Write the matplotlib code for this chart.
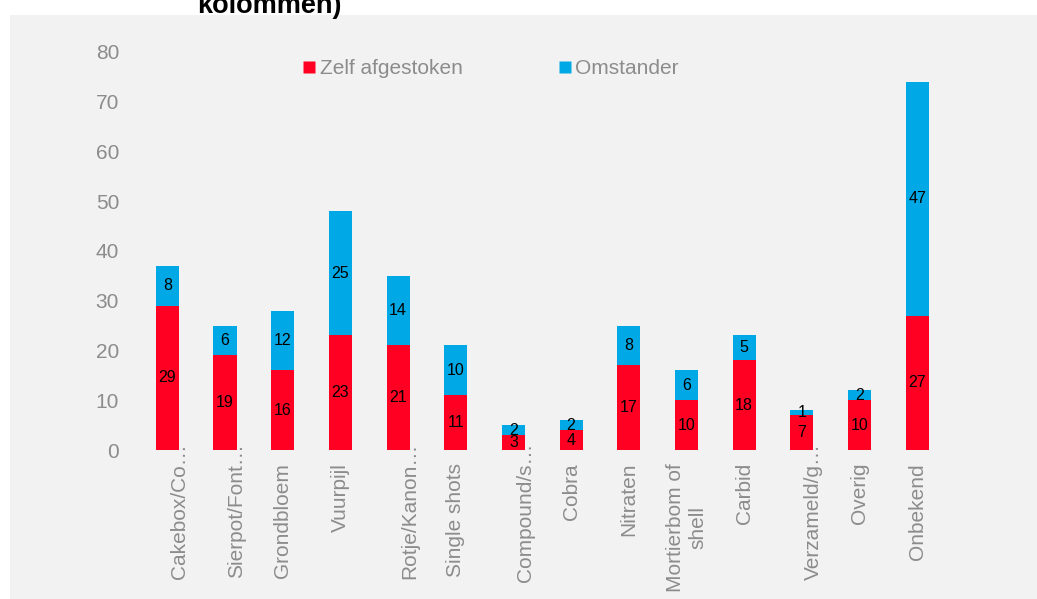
import matplotlib
matplotlib.use("Agg")
from matplotlib import pyplot as plt
from matplotlib.lines import Line2D
from matplotlib.patches import Rectangle
from matplotlib.transforms import blended_transform_factory, ScaledTranslation
import numpy as np

## data
categories = ["Cakebox/Co\u2026", "Sierpot/Font\u2026", "Grondbloem", "Vuurpijl",
              "Rotje/Kanon\u2026", "Single shots", "Compound/s\u2026", "Cobra",
              "Nitraten", "Mortierbom of\nshell", "Carbid", "Verzameld/g\u2026",
              "Overig", "Onbekend"]
zelf = [29, 19, 16, 23, 21, 11, 3, 4, 17, 10, 18, 7, 10, 27]
omstander = [8, 6, 12, 25, 14, 10, 2, 2, 8, 6, 5, 1, 2, 47]
yticks = [0, 10, 20, 30, 40, 50, 60, 70, 80]
series_names = ["Zelf afgestoken", "Omstander"]

red = "#FF0022"
blue = "#00A9E6"
grey = "#8C8C8C"
panel = "#F2F2F2"

plt.rcParams['font.family'] = ['Liberation Sans', 'DejaVu Sans']

fig = plt.figure(figsize=(10.37, 5.99), dpi=100)
fig.patch.set_facecolor("white")

# grey chart area, cut off at the right and bottom
fig.patches.append(Rectangle((10 / 1037, 0), 1.0, 1 - 15 / 599,
                             transform=fig.transFigure, facecolor=panel,
                             edgecolor="none", zorder=-5))

# the title is cropped, only its last line shows
fig.text(269 / 1037, 1 - 13 / 599, "kolommen)", ha="center", va="baseline",
         fontsize=19.5, fontweight="bold", color="black")

ax = fig.add_axes([138.5 / 1037, 1 - 450 / 599, 807.5 / 1037, 398.3 / 599])
ax.set_facecolor("none")

x = np.arange(len(categories))
w = 0.4
ax.bar(x, zelf, width=w, color=red, zorder=2)
ax.bar(x, omstander, width=w, bottom=zelf, color=blue, zorder=2)

# value labels in the middle of each segment
for i in range(len(categories)):
    ax.text(x[i], zelf[i] / 2, str(zelf[i]), ha="center", va="center",
            fontsize=11.5, color="black", zorder=3)
    ax.text(x[i], zelf[i] + omstander[i] / 2, str(omstander[i]), ha="center",
            va="center", fontsize=11.5, color="black", zorder=3)

ax.set_xlim(-0.5, len(categories) - 0.5)
ax.set_ylim(0, 80)
ax.set_yticks(yticks)
ax.set_yticklabels([str(t) for t in yticks])
ax.set_xticks(x)
ax.set_xticklabels([])
ax.tick_params(axis="y", length=0, pad=14, labelsize=15, labelcolor=grey)
ax.tick_params(axis="x", length=0)
for s in ax.spines.values():
    s.set_visible(False)

# category labels: truncated ones sit a bit to the right and their
# ellipsis sticks out above the label start
trans = blended_transform_factory(ax.transData, ax.transAxes)
for i, lab in enumerate(categories):
    cut = lab.endswith("\u2026")
    dx = 12 if cut else 0
    up = 20 if cut else 0
    off = ScaledTranslation(dx / 100, (up - 13) / 100, fig.dpi_scale_trans)
    ax.text(x[i], 0, lab, transform=trans + off, rotation=90, ha="center",
            va="top", multialignment="center", fontsize=15, color=grey,
            zorder=4)

handles = [Line2D([], [], marker="s", linestyle="none", markersize=8,
                  markerfacecolor=red, markeredgecolor="none"),
           Line2D([], [], marker="s", linestyle="none", markersize=8,
                  markerfacecolor=blue, markeredgecolor="none")]
leg = fig.legend(handles, series_names, loc="center left",
                 bbox_to_anchor=(303 / 1037, 1 - 69 / 599), ncol=2,
                 frameon=False, fontsize=15, handlelength=0.6,
                 handletextpad=0.2, columnspacing=4.6, borderaxespad=0,
                 borderpad=0)
for t in leg.get_texts():
    t.set_color(grey)

fig.savefig("out.png", dpi=100, facecolor=fig.get_facecolor())
